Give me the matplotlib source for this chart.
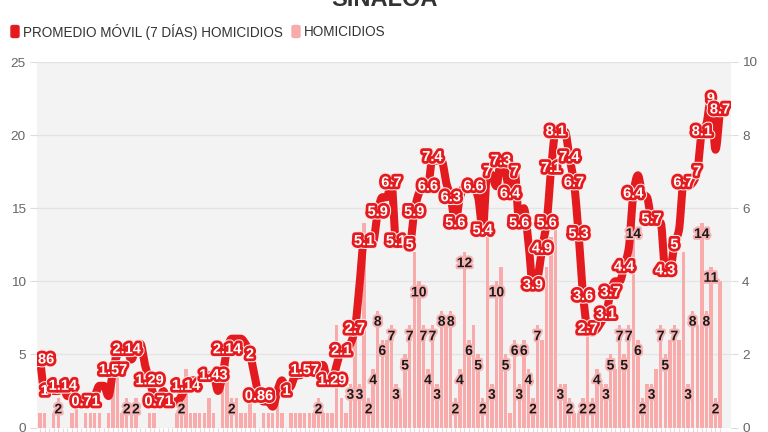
import numpy as np
import matplotlib
matplotlib.use("Agg")
import matplotlib.pyplot as plt
from matplotlib import patheffects as pe
from matplotlib.patches import FancyBboxPatch

# daily homicides (bars, left axis)
homicidios = [1, 1, 0, 1, 2, 0, 0, 1, 2, 0,
              1, 1, 1, 1, 0, 1, 5, 6, 1, 2,
              1, 2, 0, 0, 1, 1, 0, 0, 0, 0,
              1, 2, 4, 1, 1, 1, 1, 2, 1, 0,
              3, 5, 2, 2, 1, 1, 2, 1, 0, 1,
              1, 1, 2, 1, 0, 1, 1, 1, 1, 1,
              1, 2, 1, 1, 1, 7, 2, 1, 3, 8,
              3, 14, 2, 4, 8, 6, 6, 7, 3, 2,
              5, 7, 12, 10, 7, 4, 7, 3, 8, 7,
              8, 2, 4, 12, 6, 7, 5, 2, 13, 3,
              10, 11, 5, 1, 6, 3, 6, 4, 2, 7,
              6, 11, 13, 14, 3, 3, 2, 1, 1, 2,
              7, 2, 4, 3, 3, 5, 4, 7, 5, 7,
              14, 6, 2, 3, 3, 4, 7, 5, 6, 7,
              6, 12, 3, 8, 7, 14, 8, 11, 2, 10]

# 7-day moving average (line, right axis)
promedio = [1.86, 1.0, 1.0, 1.0, 1.0, 1.14, 0.86, 0.86, 0.71, 0.71,
            0.71, 0.71, 0.86, 1.14, 1.14, 0.86, 1.57, 2.0, 2.14, 2.14,
            1.86, 2.14, 2.29, 1.71, 1.29, 0.86, 0.71, 1.0, 0.71, 0.71,
            0.71, 0.86, 1.14, 1.29, 1.29, 1.29, 1.43, 1.43, 1.43, 1.0,
            1.43, 2.14, 2.43, 2.43, 2.43, 2.29, 2.0, 1.43, 0.86, 0.71,
            0.71, 0.57, 1.0, 1.29, 1.0, 1.14, 1.43, 1.43, 1.57, 1.57,
            1.57, 1.71, 1.71, 1.29, 1.29, 1.71, 2.1, 2.14, 2.29, 2.7,
            3.9, 5.1, 5.1, 5.1, 5.9, 6.3, 6.3, 6.7, 5.1, 5.1,
            5.1, 5.0, 5.9, 6.4, 6.6, 6.6, 7.4, 7.3, 7.3, 6.7,
            6.3, 5.6, 6.3, 6.6, 6.7, 6.6, 6.3, 5.4, 7.0, 6.9,
            6.6, 7.3, 7.0, 6.4, 7.0, 5.6, 6.0, 5.1, 3.9, 4.1,
            4.9, 5.6, 7.1, 8.1, 8.1, 8.1, 7.4, 6.7, 5.3, 3.6,
            2.7, 2.6, 2.7, 2.9, 3.1, 3.7, 4.0, 4.0, 4.4, 4.9,
            6.4, 6.9, 6.4, 6.3, 5.7, 5.6, 5.6, 4.3, 4.3, 5.0,
            5.4, 6.7, 6.6, 6.7, 7.0, 8.1, 8.3, 9.0, 7.6, 8.7]

# which points carry a visible label in the original
etiquetas_linea = [0, 1, 5, 10, 16, 19, 24, 26, 32, 38, 41, 46, 48, 54, 58, 64, 66,
                   69, 71, 74, 77, 78, 81, 82, 85, 86, 90, 91, 95, 97, 98, 101, 103,
                   104, 105, 108, 110, 111, 112, 113, 116, 117, 118, 119, 120, 124,
                   125, 128, 130, 134, 137, 139, 141, 144, 145, 147, 149]
etiquetas_barras = [4, 19, 21, 31, 42, 61, 68, 70, 72, 73, 74, 75, 77, 78, 80, 81, 83,
                    84, 85, 86, 87, 88, 90, 91, 92, 93, 94, 96, 97, 99, 100, 102, 104,
                    105, 106, 107, 108, 109, 114, 116, 119, 121, 122, 124, 125, 127,
                    128, 129, 130, 131, 132, 134, 136, 137, 139, 142, 143, 145, 146,
                    147, 148]

RED = "#e31b1f"
PINK = "#f9abab"
FONT = ["Liberation Sans", "DejaVu Sans"]
NARROW = ["Liberation Sans Narrow", "Liberation Sans", "DejaVu Sans"]


def monotone(x, y, steps=8):
    # monotone cubic (Fritsch-Butland) so the line looks smooth like the original
    x = np.asarray(x, float)
    y = np.asarray(y, float)
    h = np.diff(x)
    d = np.diff(y) / h
    m = np.zeros_like(y)
    m[0], m[-1] = d[0], d[-1]
    d0, d1 = d[:-1], d[1:]
    same = d0 * d1 > 0
    with np.errstate(divide="ignore", invalid="ignore"):
        hm = np.where(same, 2 * d0 * d1 / (d0 + d1), 0.0)
    m[1:-1] = hm
    t = np.linspace(0, 1, steps, endpoint=False)
    h00 = 2 * t**3 - 3 * t**2 + 1
    h10 = t**3 - 2 * t**2 + t
    h01 = -2 * t**3 + 3 * t**2
    h11 = t**3 - t**2
    xs, ys = [], []
    for k in range(len(x) - 1):
        xs.append(x[k] + t * h[k])
        ys.append(h00 * y[k] + h10 * h[k] * m[k] + h01 * y[k + 1] + h11 * h[k] * m[k + 1])
    xs.append([x[-1]])
    ys.append([y[-1]])
    return np.concatenate(xs), np.concatenate(ys)


dias = np.arange(len(homicidios))

fig = plt.figure(figsize=(7.68, 4.32), dpi=100)
ax = fig.add_axes([37 / 768, 4.5 / 432, 694 / 768, 365.5 / 432])
ax.set_facecolor("#f3f3f3")
ax.bar(dias, homicidios, width=0.75, color=PINK, zorder=2)
ax.set_ylim(0, 25)
ax.set_yticks(range(0, 26, 5))
ax.set_xlim(-0.66, 151.4)
ax.set_xticks(dias)
ax.set_xticklabels([])
ax.grid(axis="y", color="#e4e4e4", lw=1)
ax.set_axisbelow(True)
ax.tick_params(axis="x", length=3, color="#dddddd")
ax.tick_params(axis="y", length=5, color="#dddddd", labelcolor="#666666", pad=3)
for lab in ax.get_yticklabels():
    lab.set_family(FONT)
    lab.set_fontsize(9.7)
for s in ax.spines.values():
    s.set_visible(False)

ax2 = ax.twinx()
ax2.set_ylim(0, 10)
ax2.set_yticks(range(0, 11, 2))
ax2.tick_params(axis="y", length=5, color="#dddddd", labelcolor="#666666", pad=3)
for lab in ax2.get_yticklabels():
    lab.set_family(FONT)
    lab.set_fontsize(9.7)
for s in ax2.spines.values():
    s.set_visible(False)

xs, ys = monotone(dias, promedio)
ax2.plot(xs, ys, color=RED, lw=5.8, solid_capstyle="round", solid_joinstyle="round", zorder=3)

# bar values, inside the top of each bar
for i in etiquetas_barras:
    t = ax2.annotate(f"{homicidios[i]:g}", (dias[i], homicidios[i]), xycoords=ax.transData,
                     xytext=(0, -8), textcoords="offset points", ha="center", va="center",
                     fontsize=10, weight="bold", color="#1a1a1a", family=NARROW, zorder=4,
                     annotation_clip=True)
    t.set_path_effects([pe.Stroke(linewidth=3, foreground="#f7b3b3"), pe.Normal()])
    t.set_clip_on(True)

# moving average values on the line
for i in etiquetas_linea:
    t = ax2.text(dias[i], promedio[i], f"{promedio[i]:g}", ha="center", va="center",
                 fontsize=10.5, weight="bold", color="white", family=NARROW, zorder=5,
                 clip_on=True)
    t.set_path_effects([pe.Stroke(linewidth=5.5, foreground="#ffe9e9"),
                        pe.Stroke(linewidth=4, foreground=RED), pe.Normal()])

# title (cropped at the top in the original) and legend
fig.text(0.5, 1 - 6 / 432, "SINALOA", ha="center", va="baseline", fontsize=17,
         weight="bold", color="#333333", family=FONT)

fig.patches.append(FancyBboxPatch((11 / 768, 1 - 37.5 / 432), 8 / 768, 12 / 432,
                                  boxstyle="round,pad=0,rounding_size=0.003",
                                  transform=fig.transFigure, color=RED))
fig.text(23 / 768, 1 - 31.5 / 432, "PROMEDIO MÓVIL (7 DÍAS) HOMICIDIOS", va="center",
         fontsize=9.75, color="#333333", family=FONT)
fig.patches.append(FancyBboxPatch((292 / 768, 1 - 37.5 / 432), 8 / 768, 12 / 432,
                                  boxstyle="round,pad=0,rounding_size=0.003",
                                  transform=fig.transFigure, color=PINK))
fig.text(304 / 768, 1 - 31.5 / 432, "HOMICIDIOS", va="center",
         fontsize=9.75, color="#333333", family=FONT)

fig.savefig("out.png", dpi=100)
